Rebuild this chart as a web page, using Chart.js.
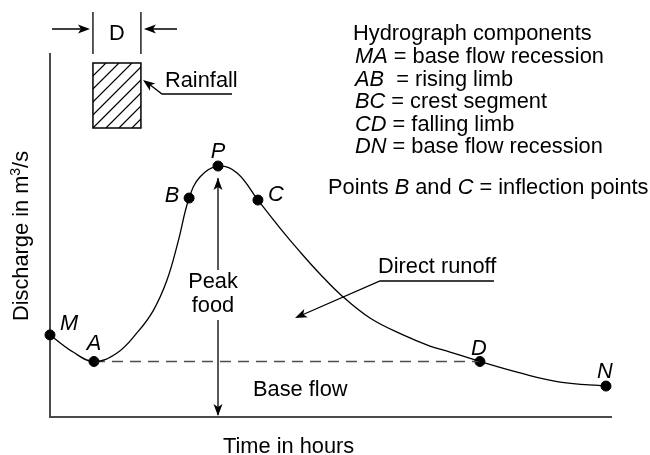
<!DOCTYPE html>
<html>
<head>
<meta charset="utf-8">
<script src="https://cdn.jsdelivr.net/npm/chart.js@4/dist/chart.umd.min.js"></script>
<style>
  html, body { margin: 0; padding: 0; background: #fff; }
  canvas { display: block; }
</style>
</head>
<body>
<canvas id="hydrograph" width="650" height="455"></canvas>
<script>
// traced hydrograph, time in hours vs discharge in m3/s
const hours = [0, 1.15, 2.19, 3.34, 4.33, 5.13, 5.83, 6.38, 6.93, 7.47, 8.37, 9.32, 10.36,
  11.46, 12.46, 13.45, 14.55, 15.94, 17.59, 18.93, 19.93, 21.42, 23.42, 25.41, 27.7];
const discharge = [4.51, 3.57, 3.05, 3.52, 4.62, 5.82, 7.53, 9.62, 12.03, 13.19, 13.79, 13.41, 11.92,
  10.38, 9.07, 7.86, 6.65, 5.44, 4.51, 3.9, 3.57, 3.05, 2.42, 1.92, 1.7];

// named points on the curve
const pointNames = ["M", "A", "B", "P", "C", "D", "N"];
const pointHours = [0, 2.19, 6.93, 8.37, 10.36, 21.42, 27.7];
const pointDischarge = [4.51, 3.05, 12.03, 13.79, 11.92, 3.05, 1.7];

// base flow separation A -> D
const baseFlowHours = [2.19, 21.42];
const baseFlowDischarge = [3.05, 3.05];

// rainfall duration D
const rainStart = 2.14;
const rainEnd = 4.53;

const legendRows = [
  ["MA", " = base flow recession"],
  ["AB", "  = rising limb"],
  ["BC", " = crest segment"],
  ["CD", " = falling limb"],
  ["DN", " = base flow recession"]
];

const FONT = "21.8px 'Liberation Sans', Arial, sans-serif";
const FONT_IT = "italic 21.8px 'Liberation Sans', Arial, sans-serif";

function arrowHead(ctx, x, y, angle) {
  ctx.save();
  ctx.translate(x, y);
  ctx.rotate(angle);
  ctx.beginPath();
  ctx.moveTo(0, 0);
  ctx.lineTo(-12, -4.5);
  ctx.lineTo(-9, 0);
  ctx.lineTo(-12, 4.5);
  ctx.closePath();
  ctx.fill();
  ctx.restore();
}

const annotations = {
  id: "annotations",
  beforeDatasetsDraw(chart) {
    const ctx = chart.ctx;
    const { left, top, right, bottom } = chart.chartArea;
    ctx.save();
    ctx.strokeStyle = "#4a4a4a";
    ctx.lineWidth = 2;
    ctx.beginPath();
    ctx.moveTo(left, top);
    ctx.lineTo(left, bottom);
    ctx.lineTo(right, bottom);
    ctx.stroke();
    ctx.restore();
  },
  afterDatasetsDraw(chart) {
    const ctx = chart.ctx;
    const xs = chart.scales.x;
    const ys = chart.scales.y;
    const bottom = chart.chartArea.bottom;
    ctx.save();
    ctx.fillStyle = "#000";
    ctx.strokeStyle = "#000";
    ctx.lineWidth = 1.3;
    ctx.textBaseline = "alphabetic";

    // point letters
    const offsets = { M: [19, -12], A: [0, -19], B: [-17, -4], P: [0, -16], C: [18, -7], D: [-1, -14], N: [-1, -16] };
    ctx.font = FONT_IT;
    ctx.textAlign = "center";
    pointNames.forEach((name, i) => {
      const px = xs.getPixelForValue(pointHours[i]);
      const py = ys.getPixelForValue(pointDischarge[i]);
      const o = offsets[name];
      ctx.fillText(name, px + o[0], py + o[1] + 7.5);
    });

    // peak flood double arrow
    const pIdx = pointNames.indexOf("P");
    const peakX = xs.getPixelForValue(pointHours[pIdx]);
    const peakY = ys.getPixelForValue(pointDischarge[pIdx]);
    ctx.beginPath();
    ctx.moveTo(peakX, peakY + 12);
    ctx.lineTo(peakX, 270);
    ctx.moveTo(peakX, 320);
    ctx.lineTo(peakX, bottom - 2);
    ctx.stroke();
    arrowHead(ctx, peakX, peakY + 12, -Math.PI / 2);
    arrowHead(ctx, peakX, bottom - 1, Math.PI / 2);
    ctx.font = FONT;
    ctx.fillText("Peak", peakX - 5, 288);
    ctx.fillText("food", peakX - 5, 312);

    ctx.textAlign = "left";
    ctx.fillText("Base flow", 253, 396);

    // direct runoff pointer
    ctx.fillText("Direct runoff", 378, 273);
    ctx.beginPath();
    ctx.moveTo(494, 281);
    ctx.lineTo(380, 281);
    ctx.lineTo(302, 315);
    ctx.stroke();
    arrowHead(ctx, 295, 318, Math.atan2(318 - 281, 295 - 380));

    // rainfall block
    const r0 = xs.getPixelForValue(rainStart);
    const r1 = xs.getPixelForValue(rainEnd);
    const rTop = 63, rBot = 128;
    ctx.save();
    ctx.beginPath();
    ctx.rect(r0, rTop, r1 - r0, rBot - rTop);
    ctx.clip();
    ctx.lineWidth = 1.2;
    ctx.beginPath();
    for (let s = r0 - (rBot - rTop); s < r1 + 5; s += 13) {
      ctx.moveTo(s, rBot);
      ctx.lineTo(s + (rBot - rTop), rTop);
    }
    ctx.stroke();
    ctx.restore();
    ctx.lineWidth = 1.5;
    ctx.strokeRect(r0, rTop, r1 - r0, rBot - rTop);
    ctx.lineWidth = 1.3;
    ctx.fillText("Rainfall", 165, 87);
    ctx.beginPath();
    ctx.moveTo(232, 94);
    ctx.lineTo(162, 94);
    ctx.lineTo(149, 84);
    ctx.stroke();
    arrowHead(ctx, 143, 80, Math.atan2(80 - 94, 143 - 162));

    // duration marker
    ctx.beginPath();
    ctx.moveTo(r0, 12); ctx.lineTo(r0, 54);
    ctx.moveTo(r1, 12); ctx.lineTo(r1, 54);
    ctx.moveTo(52, 29); ctx.lineTo(r0 - 6, 29);
    ctx.moveTo(177, 29); ctx.lineTo(r1 + 6, 29);
    ctx.stroke();
    arrowHead(ctx, r0 - 3, 29, 0);
    arrowHead(ctx, r1 + 3, 29, Math.PI);
    ctx.textAlign = "center";
    ctx.fillText("D", (r0 + r1) / 2, 40);

    // component list
    ctx.textAlign = "left";
    ctx.fillText("Hydrograph components", 353, 40);
    const rowBase = [63, 86, 108, 131, 153];
    legendRows.forEach((row, i) => {
      ctx.font = FONT_IT;
      ctx.fillText(row[0], 355, rowBase[i]);
      const w = ctx.measureText(row[0]).width;
      ctx.font = FONT;
      ctx.fillText(row[1], 355 + w, rowBase[i]);
    });
    let x = 328;
    [["Points ", FONT], ["B", FONT_IT], [" and ", FONT], ["C", FONT_IT], [" = inflection points", FONT]].forEach(([t, f]) => {
      ctx.font = f;
      ctx.fillText(t, x, 194);
      x += ctx.measureText(t).width;
    });

    // axis titles
    ctx.font = FONT;
    ctx.textAlign = "left";
    ctx.fillText("Time in hours", 223, 453);

    ctx.save();
    ctx.translate(28, 236);
    ctx.rotate(-Math.PI / 2);
    const part1 = "Discharge in m";
    const part3 = "/s";
    const supFont = "14px 'Liberation Sans', Arial, sans-serif";
    const w1 = ctx.measureText(part1).width;
    const w3 = ctx.measureText(part3).width;
    ctx.font = supFont;
    const w2 = ctx.measureText("3").width;
    let sx = -(w1 + w2 + w3) / 2;
    ctx.font = FONT;
    ctx.fillText(part1, sx, 0);
    ctx.font = supFont;
    ctx.fillText("3", sx + w1, -8);
    ctx.font = FONT;
    ctx.fillText(part3, sx + w1 + w2, 0);
    ctx.restore();

    ctx.restore();
  }
};

new Chart(document.getElementById("hydrograph"), {
  type: "line",
  data: {
    datasets: [
      {
        label: "Hydrograph",
        data: hours.map((h, i) => ({ x: h, y: discharge[i] })),
        borderColor: "#000",
        borderWidth: 1.3,
        pointRadius: 0,
        tension: 0.4,
        fill: false,
        clip: false
      },
      {
        label: "Base flow separation",
        data: baseFlowHours.map((h, i) => ({ x: h, y: baseFlowDischarge[i] })),
        borderColor: "#4d4d4d",
        borderWidth: 1.7,
        borderDash: [11, 7],
        pointRadius: 0,
        fill: false
      },
      {
        label: "Points",
        data: pointHours.map((h, i) => ({ x: h, y: pointDischarge[i] })),
        showLine: false,
        pointRadius: 5,
        pointBackgroundColor: "#000",
        pointBorderColor: "#000",
        clip: false
      }
    ]
  },
  options: {
    responsive: false,
    animation: false,
    layout: { padding: { left: 50, top: 53, right: 38, bottom: 38 } },
    plugins: { legend: { display: false }, tooltip: { enabled: false } },
    scales: {
      x: { type: "linear", min: 0, max: 28, display: false },
      y: { min: 0, max: 20, display: false }
    }
  },
  plugins: [annotations]
});
</script>
</body>
</html>
